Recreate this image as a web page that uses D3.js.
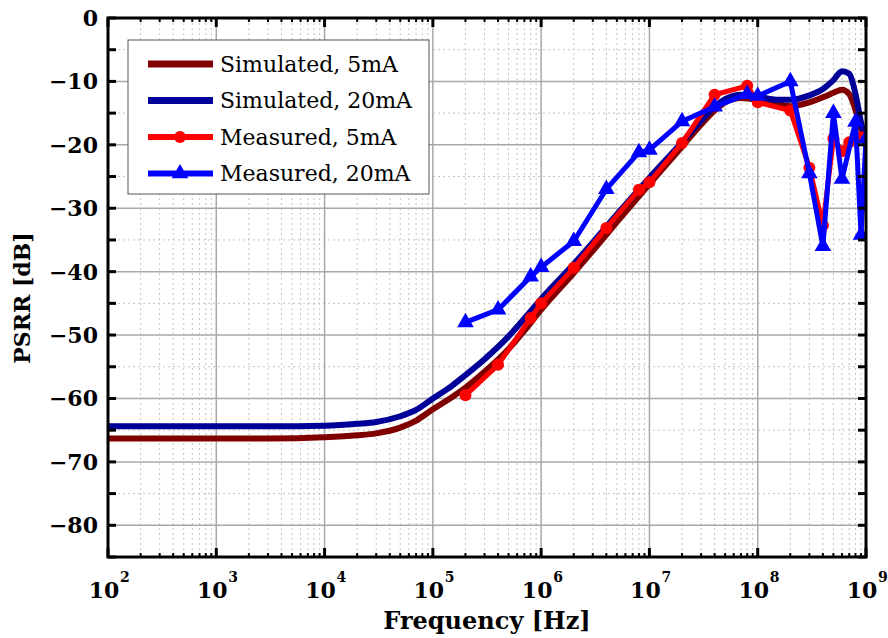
<!DOCTYPE html>
<html>
<head>
<meta charset="utf-8">
<script src="https://cdn.jsdelivr.net/npm/d3@7"></script>
<style>
  body { margin: 0; background: #fff; }
  svg { display: block; }
</style>
</head>
<body>
<svg id="chart" width="888" height="638"></svg>
<script>
/* data */

var simFreq = [1e2, 3e2, 1e3, 3e3, 1e4, 2e4, 3e4, 5e4, 7e4, 1e5, 1.5e5, 2e5, 3e5, 5e5, 7e5,
               1e6, 2e6, 3e6, 5e6, 1e7, 2e7, 3e7, 4e7, 5e7, 7e7, 1e8, 1.5e8, 2e8, 3e8,
               4e8, 5e8, 6e8, 7e8, 8e8, 9e8, 1e9];

var sim5mA = [-66.3, -66.3, -66.3, -66.3, -66.1, -65.8, -65.5, -64.6, -63.5, -61.7, -59.8,
              -58.3, -55.8, -52.2, -49.3, -46.0, -40.2, -36.7, -32.2, -26.2, -20.3, -16.8,
              -14.6, -13.3, -12.6, -12.9, -13.6, -13.9, -13.3, -12.5, -11.8, -11.3, -12.0,
              -14.5, -17.5, -20.0];

var sim20mA = [-64.4, -64.4, -64.4, -64.4, -64.3, -64.0, -63.7, -62.8, -61.8, -60.0, -58.0,
               -56.3, -53.8, -50.2, -47.4, -44.3, -38.8, -35.4, -31.0, -25.2, -19.6, -16.2,
               -14.0, -12.8, -12.1, -12.4, -12.9, -12.9, -12.2, -11.2, -9.8, -8.4, -8.8,
               -12.0, -16.5, -19.5];

var measFreq5 = [2e5, 4e5, 8e5, 1e6, 2e6, 4e6, 8e6, 1e7, 2e7, 4e7, 8e7, 1e8, 2e8, 3e8,
                 4e8, 5e8, 6e8, 7e8, 9e8];
var meas5mA = [-59.5, -54.7, -47.3, -45.0, -39.4, -33.1, -27.1, -25.9, -19.7, -12.1, -10.7,
               -13.3, -14.6, -23.6, -32.7, -19.0, -21.0, -19.6, -18.8];

var measFreq20 = [2e5, 4e5, 8e5, 1e6, 2e6, 4e6, 8e6, 1e7, 2e7, 4e7, 8e7, 1e8, 2e8, 3e8,
                  4e8, 5e8, 6e8, 8e8, 9e8, 1e9];
var meas20mA = [-48.0, -46.0, -40.8, -39.3, -35.2, -27.0, -21.2, -20.8, -16.3, -14.0, -12.0,
                -12.3, -10.0, -24.5, -36.0, -15.0, -25.4, -16.4, -34.2, -19.0];

var yTicks = [0, -10, -20, -30, -40, -50, -60, -70, -80];
var xDecades = [2, 3, 4, 5, 6, 7, 8, 9];

var legendNames = ["Simulated, 5mA", "Simulated, 20mA", "Measured, 5mA", "Measured, 20mA"];
var colors = ["#800000", "#000099", "#ff0000", "#0000ff"];

/* chart setup */

var svg = d3.select("#chart");
var pLeft = 108, pRight = 866, pTop = 18, pBottom = 557;

var x = d3.scaleLog().domain([1e2, 1e9]).range([pLeft, pRight]);
var y = d3.scaleLinear().domain([-85, 0]).range([pBottom, pTop]);

svg.append("rect").attr("width", 888).attr("height", 638).attr("fill", "#fff");

svg.append("defs").append("clipPath").attr("id", "plotclip")
  .append("rect").attr("x", pLeft).attr("y", pTop)
  .attr("width", pRight - pLeft).attr("height", pBottom - pTop);

// minor log positions (2..9 in each decade)
var minorX = [];
for (var d = 2; d < 9; d++) {
  for (var m = 2; m <= 9; m++) minorX.push(m * Math.pow(10, d));
}
var minorY = d3.range(-85, 0, 10);   // -85, -75 ... -5

var grid = svg.append("g");
grid.selectAll(".vminor").data(minorX).enter().append("line")
  .attr("x1", function(v){ return x(v); }).attr("x2", function(v){ return x(v); })
  .attr("y1", pTop).attr("y2", pBottom)
  .attr("stroke", "#c4c4c4").attr("stroke-width", 1).attr("stroke-dasharray", "2,3");
grid.selectAll(".hminor").data(minorY).enter().append("line")
  .attr("x1", pLeft).attr("x2", pRight)
  .attr("y1", function(v){ return y(v); }).attr("y2", function(v){ return y(v); })
  .attr("stroke", "#c4c4c4").attr("stroke-width", 1).attr("stroke-dasharray", "2,3");
grid.selectAll(".vmajor").data(xDecades).enter().append("line")
  .attr("x1", function(v){ return x(Math.pow(10, v)); }).attr("x2", function(v){ return x(Math.pow(10, v)); })
  .attr("y1", pTop).attr("y2", pBottom)
  .attr("stroke", "#a8a8a8").attr("stroke-width", 1.5);
grid.selectAll(".hmajor").data(yTicks).enter().append("line")
  .attr("x1", pLeft).attr("x2", pRight)
  .attr("y1", function(v){ return y(v); }).attr("y2", function(v){ return y(v); })
  .attr("stroke", "#a8a8a8").attr("stroke-width", 1.5);

// series
var plot = svg.append("g").attr("clip-path", "url(#plotclip)");

function toPoints(fs, vs) {
  return fs.map(function(f, i){ return [f, vs[i]]; });
}

var line = d3.line()
  .x(function(p){ return x(p[0]); })
  .y(function(p){ return y(p[1]); });
var smoothLine = d3.line()
  .curve(d3.curveMonotoneX)
  .x(function(p){ return x(p[0]); })
  .y(function(p){ return y(p[1]); });

var series = [
  {pts: toPoints(simFreq, sim5mA), color: colors[0], width: 6, marker: null},
  {pts: toPoints(simFreq, sim20mA), color: colors[1], width: 6, marker: null},
  {pts: toPoints(measFreq5, meas5mA), color: colors[2], width: 5, marker: "circle"},
  {pts: toPoints(measFreq20, meas20mA), color: colors[3], width: 5, marker: "triangle"}
];

var triangle = d3.symbol().type(d3.symbolTriangle).size(120);

series.forEach(function(s) {
  plot.append("path").datum(s.pts)
    .attr("d", s.marker ? line : smoothLine)
    .attr("fill", "none")
    .attr("stroke", s.color)
    .attr("stroke-width", s.width)
    .attr("stroke-linejoin", "round");
  if (s.marker == "circle") {
    plot.selectAll(null).data(s.pts).enter().append("circle")
      .attr("cx", function(p){ return x(p[0]); })
      .attr("cy", function(p){ return y(p[1]); })
      .attr("r", 6).attr("fill", s.color);
  } else if (s.marker == "triangle") {
    plot.selectAll(null).data(s.pts).enter().append("path")
      .attr("d", triangle)
      .attr("transform", function(p){ return "translate(" + x(p[0]) + "," + y(p[1]) + ")"; })
      .attr("fill", s.color);
  }
});

// ticks on all four sides, pointing inward
var ticks = svg.append("g").attr("stroke", "#000");
var yAll = d3.range(-85, 1, 5);
yAll.forEach(function(v) {
  ticks.append("line").attr("x1", pLeft).attr("x2", pLeft + 8)
    .attr("y1", y(v)).attr("y2", y(v)).attr("stroke-width", 3);
  ticks.append("line").attr("x1", pRight).attr("x2", pRight - 8)
    .attr("y1", y(v)).attr("y2", y(v)).attr("stroke-width", 3);
});
minorX.forEach(function(v) {
  ticks.append("line").attr("x1", x(v)).attr("x2", x(v))
    .attr("y1", pBottom).attr("y2", pBottom - 4).attr("stroke-width", 2);
  ticks.append("line").attr("x1", x(v)).attr("x2", x(v))
    .attr("y1", pTop).attr("y2", pTop + 4).attr("stroke-width", 2);
});
xDecades.forEach(function(d) {
  var px = x(Math.pow(10, d));
  ticks.append("line").attr("x1", px).attr("x2", px)
    .attr("y1", pBottom).attr("y2", pBottom - 9).attr("stroke-width", 3);
  ticks.append("line").attr("x1", px).attr("x2", px)
    .attr("y1", pTop).attr("y2", pTop + 9).attr("stroke-width", 3);
});

// frame
svg.append("rect").attr("x", pLeft).attr("y", pTop)
  .attr("width", pRight - pLeft).attr("height", pBottom - pTop)
  .attr("fill", "none").attr("stroke", "#000").attr("stroke-width", 3);

// tick labels
var labelFont = "'DejaVu Serif', serif";

svg.selectAll(".ylab").data(yTicks).enter().append("text")
  .attr("x", pLeft - 10).attr("y", function(v){ return y(v); })
  .attr("dy", "0.36em")
  .attr("text-anchor", "end")
  .attr("font-family", labelFont).attr("font-weight", "bold").attr("font-size", 22)
  .text(function(v){ return v == 0 ? "0" : "\u2212" + Math.abs(v); });

xDecades.forEach(function(d) {
  var px = x(Math.pow(10, d));
  svg.append("text")
    .attr("x", px - 4).attr("y", 598)
    .attr("text-anchor", "middle")
    .attr("font-family", labelFont).attr("font-weight", "bold").attr("font-size", 22)
    .text("10");
  svg.append("text")
    .attr("x", px + 12).attr("y", 582)
    .attr("font-family", labelFont).attr("font-weight", "bold").attr("font-size", 14)
    .text(d);
});

// axis titles
svg.append("text")
  .attr("x", 487).attr("y", 629)
  .attr("text-anchor", "middle")
  .attr("font-family", labelFont).attr("font-weight", "bold").attr("font-size", 24)
  .text("Frequency [Hz]");

svg.append("text")
  .attr("transform", "translate(30," + 298 + ") rotate(-90)")
  .attr("text-anchor", "middle")
  .attr("font-family", labelFont).attr("font-weight", "bold").attr("font-size", 22)
  .text("PSRR [dB]");

// legend
var legend = svg.append("g");
legend.append("rect").attr("x", 128).attr("y", 40).attr("width", 301).attr("height", 154)
  .attr("fill", "#fff").attr("stroke", "#555").attr("stroke-width", 1);

legendNames.forEach(function(name, i) {
  var ly = 64 + i * 36.5;
  legend.append("line").attr("x1", 148).attr("x2", 213)
    .attr("y1", ly).attr("y2", ly)
    .attr("stroke", colors[i]).attr("stroke-width", series[i].width + 1);
  if (series[i].marker == "circle") {
    legend.append("circle").attr("cx", 180).attr("cy", ly).attr("r", 6).attr("fill", colors[i]);
  } else if (series[i].marker == "triangle") {
    legend.append("path").attr("d", triangle)
      .attr("transform", "translate(180," + ly + ")").attr("fill", colors[i]);
  }
  legend.append("text")
    .attr("x", 220).attr("y", ly).attr("dy", "0.35em")
    .attr("font-family", labelFont).attr("font-size", 22)
    .text(name);
});
</script>
</body>
</html>
